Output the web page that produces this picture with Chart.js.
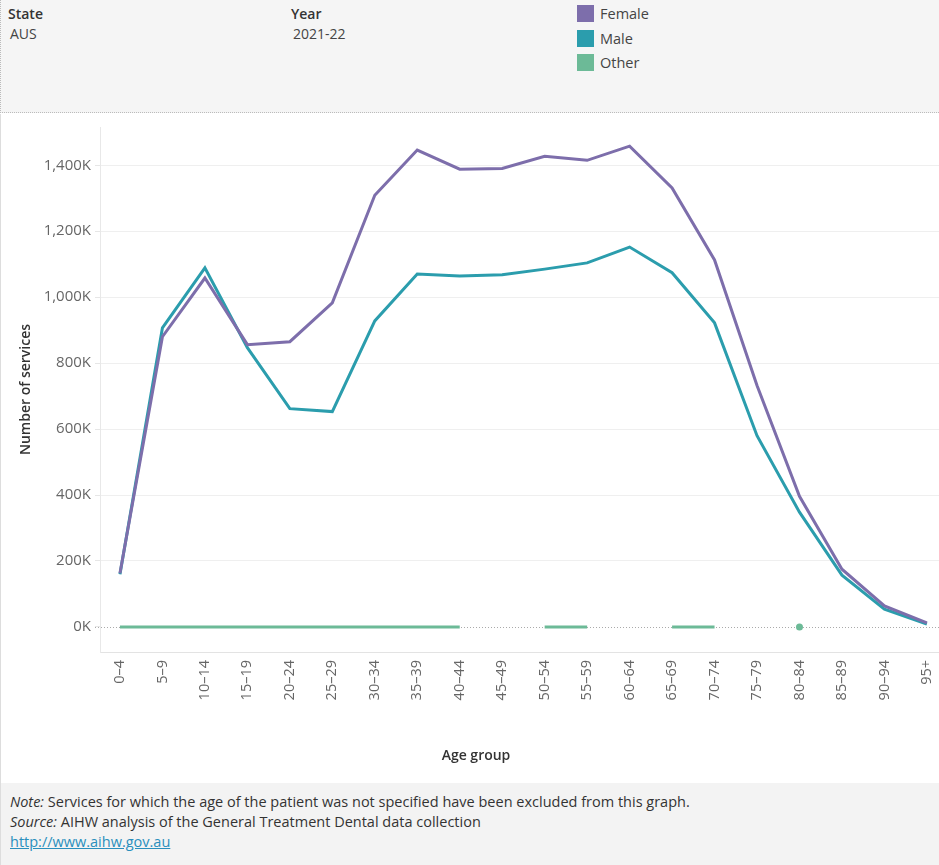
<!DOCTYPE html>
<html>
<head>
<meta charset="utf-8">
<script src="https://cdn.jsdelivr.net/npm/chart.js@4"></script>
<style>
  html, body { margin: 0; padding: 0; background: #fff; }
  body { width: 939px; height: 865px; position: relative; overflow: hidden; font-family: "Open Sans", sans-serif; color: #333; }
  #top { position: absolute; left: 0; top: 0; width: 938px; height: 112px; background: #f5f5f5; border-left: 1px dotted #bbb; border-bottom: 1px dotted #bbb; }
  .lbl { position: absolute; font-size: 14px; font-weight: 600; color: #333; }
  .val { position: absolute; font-size: 14px; color: #444; }
  .key { position: absolute; left: 576px; width: 17px; height: 17px; }
  .keytxt { position: absolute; left: 599px; font-size: 14.5px; color: #444; }
  #plot { position: absolute; left: 0; top: 114px; width: 939px; height: 669px; border-left: 1px solid #ddd; box-sizing: border-box; }
  #xtitle { position: absolute; left: 376px; width: 200px; top: 745px; text-align: center; font-size: 14px; font-weight: 600; color: #333; }
  #foot { position: absolute; left: 0; top: 783px; width: 938px; height: 82px; background: #f3f3f3; border-left: 1px solid #ddd; font-size: 14.5px; color: #333; }
  #foot div { position: absolute; left: 9px; }
  #foot a { color: #2a8fbd; }
</style>
</head>
<body>
<div id="top">
  <div class="lbl" style="left:7px;top:4px">State</div>
  <div class="val" style="left:9px;top:24px">AUS</div>
  <div class="lbl" style="left:290px;top:4px">Year</div>
  <div class="val" style="left:292px;top:24px">2021-22</div>
  <div class="key" style="top:5px;background:#7d6eab"></div>
  <div class="keytxt" style="top:4px">Female</div>
  <div class="key" style="top:30px;background:#2b9dad"></div>
  <div class="keytxt" style="top:29px">Male</div>
  <div class="key" style="top:54px;background:#6cba97"></div>
  <div class="keytxt" style="top:53px">Other</div>
</div>
<div id="plot"><canvas id="myChart"></canvas></div>
<div id="xtitle">Age group</div>
<div id="foot">
  <div style="top:9px"><i>Note:</i> Services for which the age of the patient was not specified have been excluded from this graph.</div>
  <div style="top:29px"><i>Source:</i> AIHW analysis of the General Treatment Dental data collection</div>
  <div style="top:49px"><a href="#">http://www.aihw.gov.au</a></div>
</div>
<script>
var ageGroups = ['0–4', '5–9', '10–14', '15–19', '20–24', '25–29', '30–34', '35–39', '40–44', '45–49',
                 '50–54', '55–59', '60–64', '65–69', '70–74', '75–79', '80–84', '85–89', '90–94', '95+'];
var female = [163000, 880000, 1058000, 856000, 865000, 983000, 1309000, 1446000, 1388000, 1390000,
              1427000, 1415000, 1458000, 1331000, 1113000, 732000, 396000, 175000, 64000, 12000];
var male = [160000, 907000, 1089000, 847000, 662000, 653000, 928000, 1070000, 1064000, 1068000,
            1085000, 1104000, 1152000, 1074000, 922000, 580000, 348000, 157000, 54000, 9000];
// gaps where no "Other" services were recorded
var other = [0, 0, 0, 0, 0, 0, 0, 0, 0, null, 0, 0, null, 0, 0, null, 0, null, null, null];
var yTicks = [0, 200000, 400000, 600000, 800000, 1000000, 1200000, 1400000];

function toPoints(arr) {
  return arr.map(function (v, i) { return { x: i, y: v }; });
}

// lone points (no neighbour on either side) are drawn as a dot
function loneRadius(ctx) {
  var i = ctx.dataIndex;
  if (other[i] === null) return 0;
  var prev = i > 0 ? other[i - 1] : null;
  var next = i < other.length - 1 ? other[i + 1] : null;
  return (prev === null && next === null) ? 3.5 : 0;
}

var zeroLine = {
  id: 'zeroLine',
  beforeDatasetsDraw: function (chart) {
    var c = chart.ctx, y = chart.scales.y.getPixelForValue(0), a = chart.chartArea;
    c.save();
    c.strokeStyle = '#aaa';
    c.lineWidth = 1;
    c.setLineDash([1, 2]);
    c.beginPath();
    c.moveTo(a.left - 5, Math.round(y) + 0.5);
    c.lineTo(a.right, Math.round(y) + 0.5);
    c.stroke();
    c.restore();
  }
};

var titleFont = { family: '"Open Sans", sans-serif', size: 14, weight: '600' };

new Chart(document.getElementById('myChart'), {
  type: 'line',
  data: {
    datasets: [
      { label: 'Female', data: toPoints(female), borderColor: '#7d6eab', borderWidth: 3, pointRadius: 0, tension: 0 },
      { label: 'Male', data: toPoints(male), borderColor: '#2b9dad', borderWidth: 3, pointRadius: 0, tension: 0 },
      { label: 'Other', data: toPoints(other), borderColor: '#6cba97', backgroundColor: '#6cba97', borderWidth: 3,
        pointRadius: loneRadius, pointBorderWidth: 0, spanGaps: false, tension: 0 }
    ]
  },
  options: {
    responsive: true,
    maintainAspectRatio: false,
    animation: false,
    events: [],
    layout: { padding: { top: 1, right: 0, bottom: 15, left: 0 } },
    plugins: { legend: { display: false }, tooltip: { enabled: false } },
    scales: {
      x: {
        type: 'linear',
        min: -0.47,
        max: 19.285,
        afterBuildTicks: function (scale) {
          scale.ticks = ageGroups.map(function (_, i) { return { value: i }; });
        },
        afterFit: function (scale) {
          scale.height = 116;
          scale.paddingLeft = 0;
          scale.paddingRight = 0;
        },
        grid: { display: false, drawTicks: false },
        border: { display: true, color: '#e3e3e3' },
        ticks: {
          autoSkip: false, minRotation: 90, maxRotation: 90, padding: 8,
          color: '#666', font: { family: '"Open Sans", sans-serif', size: 14.5 },
          callback: function (v) { return ageGroups[v] !== undefined ? ageGroups[v] : ''; }
        }
      },
      y: {
        min: -76000,
        max: 1516000,
        afterBuildTicks: function (scale) {
          scale.ticks = yTicks.map(function (v) { return { value: v }; });
        },
        afterFit: function (scale) { scale.width = 99; },
        grid: {
          color: function (ctx) { return ctx.tick && ctx.tick.value === 0 ? 'rgba(0,0,0,0)' : '#efefef'; },
          tickColor: '#e6e6e6', tickLength: 5
        },
        border: { display: true, color: '#e8e8e8' },
        ticks: {
          padding: 4, color: '#666', font: { family: '"Open Sans", sans-serif', size: 15 },
          callback: function (v) { return (v / 1000).toLocaleString('en-US') + 'K'; }
        },
        title: { display: true, text: 'Number of services', color: '#333', font: titleFont, padding: { top: 17, bottom: 0 } }
      }
    }
  },
  plugins: [zeroLine]
});
</script>
</body>
</html>
